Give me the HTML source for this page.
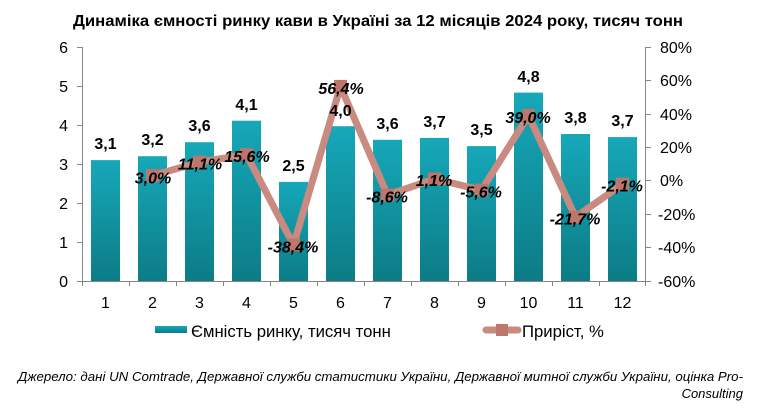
<!DOCTYPE html>
<html><head><meta charset="utf-8"><style>
html,body{margin:0;padding:0;background:#fff;}
svg{display:block;font-family:"Liberation Sans",Arial,sans-serif;}
</style></head><body>
<svg width="772" height="413" viewBox="0 0 772 413" xmlns="http://www.w3.org/2000/svg">
<defs>
<linearGradient id="bg" x1="0" y1="0" x2="0" y2="1">
<stop offset="0" stop-color="#16a8b9"/>
<stop offset="1" stop-color="#0c7c86"/>
</linearGradient>
</defs>
<rect width="772" height="413" fill="#fff"/>
<text x="378" y="26" text-anchor="middle" font-size="16" font-weight="bold" fill="#000" textLength="610" lengthAdjust="spacingAndGlyphs">Динаміка ємності ринку кави в Україні за 12 місяців 2024 року, тисяч тонн</text>

<!-- bars -->
<g fill="url(#bg)">
<rect x="91" y="160.1" width="29" height="120.9"/>
<rect x="138" y="156.2" width="29" height="124.8"/>
<rect x="185" y="142.2" width="29" height="138.8"/>
<rect x="232" y="120.7" width="29" height="160.3"/>
<rect x="279" y="181.9" width="29" height="99.1"/>
<rect x="326" y="126.2" width="29" height="154.8"/>
<rect x="373" y="139.8" width="29" height="141.2"/>
<rect x="420" y="137.9" width="29" height="143.1"/>
<rect x="467" y="146.1" width="29" height="134.9"/>
<rect x="514" y="92.6" width="29" height="188.4"/>
<rect x="561" y="134" width="29" height="147"/>
<rect x="608" y="137.1" width="29" height="143.9"/>
</g>

<!-- axes -->
<g stroke="#868686" stroke-width="1" fill="none">
<line x1="82.5" y1="47" x2="82.5" y2="281"/>
<line x1="645.5" y1="47" x2="645.5" y2="281"/>
<line x1="82" y1="281.5" x2="646" y2="281.5"/>
<path d="M77 47.5H82 M77 86.5H82 M77 125.5H82 M77 164.5H82 M77 203.5H82 M77 242.5H82 M77 281.5H82"/>
<path d="M646 47.5H651 M646 80.5H651 M646 114.5H651 M646 147.5H651 M646 180.5H651 M646 214.5H651 M646 247.5H651 M646 281.5H651"/>
<path d="M82.5 281V286 M129.5 281V286 M176.5 281V286 M223.5 281V286 M270.5 281V286 M317.5 281V286 M364.5 281V286 M411.5 281V286 M458.5 281V286 M505.5 281V286 M552.5 281V286 M599.5 281V286 M645.5 281V286"/>
</g>

<!-- left axis labels -->
<g font-size="16" fill="#000" text-anchor="end">
<text x="68" y="53">6</text>
<text x="68" y="92">5</text>
<text x="68" y="131">4</text>
<text x="68" y="170">3</text>
<text x="68" y="209">2</text>
<text x="68" y="248">1</text>
<text x="68" y="287">0</text>
</g>
<!-- right axis labels -->
<g font-size="16" fill="#000" text-anchor="start">
<text x="660" y="53">80%</text>
<text x="660" y="86">60%</text>
<text x="660" y="120">40%</text>
<text x="660" y="153">20%</text>
<text x="660" y="186">0%</text>
<text x="658" y="220">-20%</text>
<text x="658" y="253">-40%</text>
<text x="658" y="287">-60%</text>
</g>
<!-- x labels -->
<g font-size="16" fill="#000" text-anchor="middle">
<text x="105.5" y="308">1</text>
<text x="152.5" y="308">2</text>
<text x="199.5" y="308">3</text>
<text x="246.5" y="308">4</text>
<text x="293.5" y="308">5</text>
<text x="340.5" y="308">6</text>
<text x="387.5" y="308">7</text>
<text x="434.5" y="308">8</text>
<text x="481.5" y="308">9</text>
<text x="528.5" y="308">10</text>
<text x="575.5" y="308">11</text>
<text x="622.5" y="308">12</text>
</g>

<!-- line -->
<polyline points="152.5,175.7 199.5,162.1 246.5,154.6 293.5,244.9 340.5,86.4 387.5,195.1 434.5,178.9 481.5,190.1 528.5,115.5 575.5,217 622.5,184.2" fill="none" stroke="#c98a80" stroke-width="7" stroke-linejoin="round" stroke-linecap="round"/>
<g fill="#bd766c">
<rect x="146" y="169.2" width="13" height="13"/>
<rect x="193" y="155.6" width="13" height="13"/>
<rect x="240" y="148.1" width="13" height="13"/>
<rect x="287" y="238.4" width="13" height="13"/>
<rect x="334" y="79.9" width="13" height="13"/>
<rect x="381" y="188.6" width="13" height="13"/>
<rect x="428" y="172.4" width="13" height="13"/>
<rect x="475" y="183.6" width="13" height="13"/>
<rect x="522" y="109" width="13" height="13"/>
<rect x="569" y="210.5" width="13" height="13"/>
<rect x="616" y="177.7" width="13" height="13"/>
</g>

<!-- bar value labels -->
<g font-size="16" font-weight="bold" fill="#000" text-anchor="middle">
<text x="105.5" y="149">3,1</text>
<text x="152.5" y="145">3,2</text>
<text x="199.5" y="131">3,6</text>
<text x="246.5" y="110">4,1</text>
<text x="293.5" y="171">2,5</text>
<text x="340.5" y="116">4,0</text>
<text x="387.5" y="129">3,6</text>
<text x="434.5" y="127">3,7</text>
<text x="481.5" y="135">3,5</text>
<text x="528.5" y="82">4,8</text>
<text x="575.5" y="123">3,8</text>
<text x="622.5" y="126">3,7</text>
</g>
<!-- percent labels -->
<g font-size="16" font-weight="bold" font-style="italic" fill="#000" text-anchor="middle">
<text x="153" y="183.5">3,0%</text>
<text x="200" y="169.5">11,1%</text>
<text x="247" y="162">15,6%</text>
<text x="293" y="252.5">-38,4%</text>
<text x="341" y="94">56,4%</text>
<text x="387" y="202.5">-8,6%</text>
<text x="434" y="186">1,1%</text>
<text x="481" y="197.5">-5,6%</text>
<text x="528" y="123">39,0%</text>
<text x="575" y="224.5">-21,7%</text>
<text x="622" y="191.5">-2,1%</text>
</g>

<!-- legend -->
<rect x="155" y="326" width="32" height="7" fill="url(#bg)"/>
<text x="191" y="337" font-size="16.7" fill="#000">Ємність ринку, тисяч тонн</text>
<line x1="486" y1="330" x2="518" y2="330" stroke="#c98a80" stroke-width="7" stroke-linecap="round"/>
<rect x="496" y="324" width="12" height="12" fill="#bd766c"/>
<text x="522" y="337" font-size="16.7" fill="#000">Приріст, %</text>

<!-- source -->
<g font-size="13" font-style="italic" fill="#000" text-anchor="end">
<text x="743" y="381" textLength="725" lengthAdjust="spacingAndGlyphs">Джерело: дані UN Comtrade, Державної служби статистики України, Державної митної служби України, оцінка Pro-</text>
<text x="743" y="398">Consulting</text>
</g>
</svg>
</body></html>
